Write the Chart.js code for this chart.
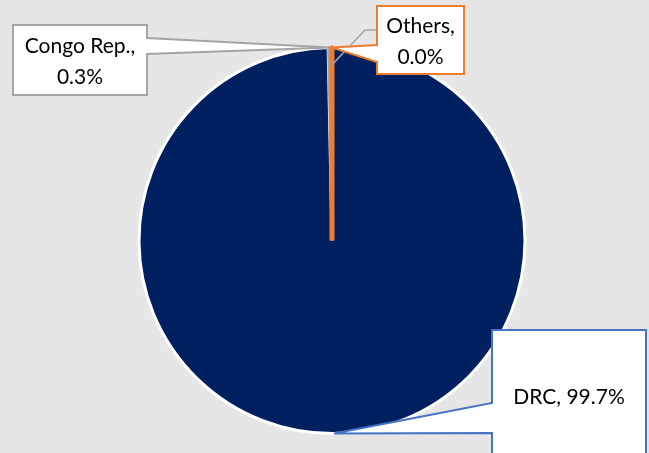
<!DOCTYPE html>
<html lang="en">
<head>
    <meta charset="UTF-8">
    <title>Production share by country</title>
    <style>
        body {
            margin: 0;
            padding: 0;
            background-color: #E7E6E6;
        }
        .chart-wrap {
            position: relative;
            width: 649px;
            height: 453px;
        }
    </style>
</head>
<body>

    <div class="chart-wrap">
        <canvas id="shareChart" width="649" height="453"></canvas>
    </div>

    <script src="https://cdn.jsdelivr.net/npm/chart.js"></script>

    <script>
        // Share of production, %
        const countries = ['DRC', 'Congo Rep.', 'Others'];
        const shares = [99.7, 0.3, 0.02];
        const sliceColors = ['#002060', '#A5A5A5', '#ED7D31'];
        const edgeColors = ['#FFFFFF', '#A5A5A5', '#ED7D31'];
        const edgeWidths = [3, 2, 5];

        // Callout boxes: box rectangle, side of the pointer, pointer base y values
        const callouts = [
            { x: 492, y: 330, w: 154, h: 170, side: 'left', b1: 403, b2: 433, color: '#4472C4', lines: 1 },
            { x: 13, y: 25, w: 134, h: 70, side: 'right', b1: 38, b2: 54, color: '#A5A5A5', lines: 2 },
            { x: 377, y: 6, w: 87, h: 68, side: 'left', b1: 45, b2: 62, color: '#ED7D31', lines: 2 }
        ];

        function fmt(v) {
            return v.toFixed(1) + '%';
        }

        const calloutPlugin = {
            id: 'callouts',
            afterDatasetsDraw(chart) {
                const ctx = chart.ctx;
                const arcs = chart.getDatasetMeta(0).data;
                ctx.save();
                ctx.lineJoin = 'miter';

                // thin grey leader next to the "Others" box
                const o = arcs[2];
                const oMid = (o.startAngle + o.endAngle) / 2;
                ctx.strokeStyle = '#A5A5A5';
                ctx.lineWidth = 1.5;
                ctx.beginPath();
                ctx.moveTo(377, 30);
                ctx.lineTo(365, 30);
                ctx.lineTo(o.x + Math.cos(oMid) * o.outerRadius * 0.91, o.y + Math.sin(oMid) * o.outerRadius * 0.91);
                ctx.stroke();

                callouts.forEach((c, i) => {
                    const a = arcs[i];
                    const mid = (a.startAngle + a.endAngle) / 2;
                    const tx = a.x + Math.cos(mid) * a.outerRadius;
                    const ty = a.y + Math.sin(mid) * a.outerRadius;

                    ctx.beginPath();
                    if (c.side === 'left') {
                        ctx.moveTo(c.x, c.y);
                        ctx.lineTo(c.x + c.w, c.y);
                        ctx.lineTo(c.x + c.w, c.y + c.h);
                        ctx.lineTo(c.x, c.y + c.h);
                        ctx.lineTo(c.x, c.b2);
                        ctx.lineTo(tx, ty);
                        ctx.lineTo(c.x, c.b1);
                    } else {
                        ctx.moveTo(c.x, c.y);
                        ctx.lineTo(c.x + c.w, c.y);
                        ctx.lineTo(c.x + c.w, c.b1);
                        ctx.lineTo(tx, ty);
                        ctx.lineTo(c.x + c.w, c.b2);
                        ctx.lineTo(c.x + c.w, c.y + c.h);
                        ctx.lineTo(c.x, c.y + c.h);
                    }
                    ctx.closePath();
                    ctx.fillStyle = '#FFFFFF';
                    ctx.fill();
                    ctx.strokeStyle = c.color;
                    ctx.lineWidth = 2;
                    ctx.stroke();

                    // label text
                    ctx.fillStyle = '#000000';
                    ctx.font = '21px Lato, "Open Sans", sans-serif';
                    ctx.textAlign = 'center';
                    ctx.textBaseline = 'alphabetic';
                    const cx = c.x + c.w / 2;
                    if (c.lines === 1) {
                        ctx.fillText(countries[i] + ', ' + fmt(shares[i]), cx, 404);
                    } else {
                        const top = c.y + c.h / 2 - 7;
                        ctx.fillText(countries[i] + ',', cx, top);
                        ctx.fillText(fmt(shares[i]), cx, top + 31);
                    }
                });
                ctx.restore();
            }
        };

        const ctx = document.getElementById('shareChart').getContext('2d');
        new Chart(ctx, {
            type: 'pie',
            data: {
                labels: countries,
                datasets: [{
                    data: shares,
                    backgroundColor: sliceColors,
                    borderColor: edgeColors,
                    borderWidth: edgeWidths,
                    radius: 193
                }]
            },
            options: {
                responsive: false,
                animation: false,
                layout: {
                    padding: { left: 15, right: 0, top: 28, bottom: 0 }
                },
                plugins: {
                    legend: { display: false },
                    tooltip: { enabled: false }
                }
            },
            plugins: [calloutPlugin]
        });
    </script>

</body>
</html>
